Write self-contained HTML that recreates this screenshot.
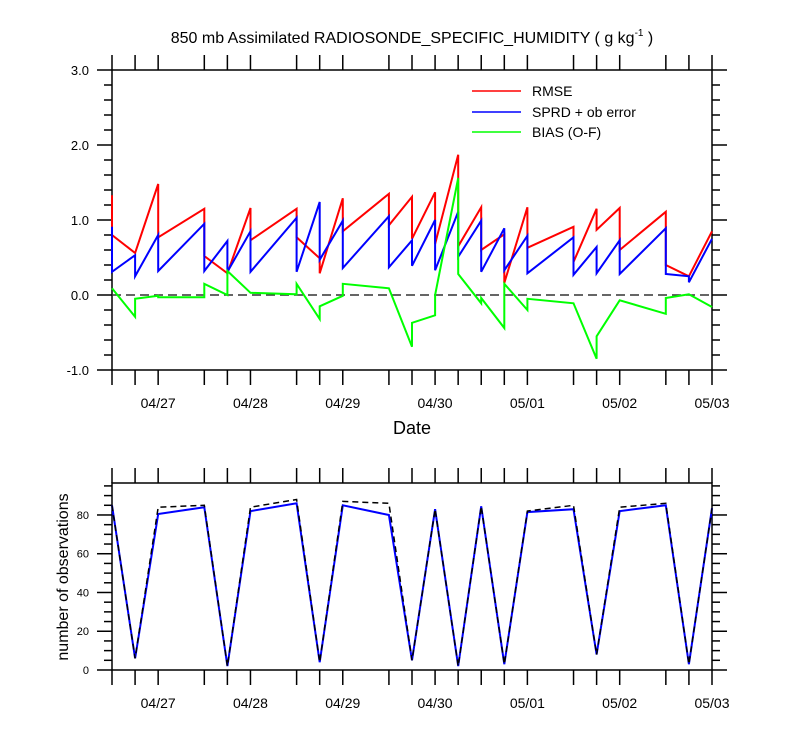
<!DOCTYPE html>
<html><head><meta charset="utf-8"><style>
html,body{margin:0;padding:0;background:#fff}
svg{display:block;font-family:"Liberation Sans",sans-serif}
</style></head><body>
<svg id="c" width="800" height="750" viewBox="0 0 800 750">
<text x="412" y="43" text-anchor="middle" font-size="16">850 mb Assimilated RADIOSONDE_SPECIFIC_HUMIDITY ( g kg<tspan font-size="10" dy="-7">-1</tspan><tspan dy="7"> )</tspan></text>
<text x="412" y="434" text-anchor="middle" font-size="18">Date</text>
<text transform="translate(68,577) rotate(-90)" text-anchor="middle" font-size="16">number of observations</text>
<g>
<line x1="472" y1="91" x2="521" y2="91" stroke="#f00" stroke-width="1.5"/><text x="532" y="96" font-size="14">RMSE</text>
<line x1="472" y1="112" x2="521" y2="112" stroke="#00f" stroke-width="1.5"/><text x="532" y="117" font-size="14">SPRD + ob error</text>
<line x1="472" y1="132" x2="521" y2="132" stroke="#0f0" stroke-width="1.5"/><text x="532" y="137" font-size="14">BIAS (O-F)</text>
</g>
</svg>
<script>
const dayLabels=["04/27","04/28","04/29","04/30","05/01","05/02","05/03"];
const dayHours=[12,36,60,84,108,132,156];
const tickHours=[0,6,12,24,30,36,48,54,60,72,78,84,90,96,102,108,120,126,132,144,150,156];
const rmseT=[0,0,6,12,12,24,24,30,36,36,48,48,54,54,60,60,72,72,78,78,84,84,90,90,96,96,102,102,108,108,120,120,126,126,132,132,144,144,150,156];
const rmseV=[1.33,0.80,0.56,1.48,0.77,1.15,0.52,0.29,1.16,0.73,1.15,0.77,0.49,0.29,1.29,0.85,1.35,0.93,1.31,0.75,1.37,0.68,1.87,0.65,1.17,0.60,0.81,0.16,1.17,0.63,0.91,0.44,1.15,0.87,1.16,0.60,1.11,0.40,0.25,0.85];
const sprdT=[0,0,6,6,12,12,24,24,30,30,36,36,48,48,54,54,60,60,72,72,78,78,84,84,90,90,96,96,102,102,108,108,120,120,126,126,132,132,144,144,150,150,156];
const sprdV=[0.91,0.31,0.53,0.25,0.80,0.32,0.95,0.32,0.72,0.31,0.85,0.31,1.03,0.31,1.24,0.47,0.99,0.36,1.05,0.37,0.73,0.39,1.00,0.33,1.11,0.51,0.99,0.31,0.89,0.33,0.79,0.29,0.77,0.27,0.64,0.29,0.73,0.28,0.89,0.28,0.25,0.17,0.75];
const biasT=[0,6,6,12,12,24,24,30,30,36,48,48,54,54,60,60,72,78,78,84,84,90,90,96,96,102,102,108,108,120,126,126,132,144,144,150,156];
const biasV=[0.09,-0.29,-0.05,-0.01,-0.03,-0.03,0.15,0.00,0.32,0.03,0.01,0.15,-0.32,-0.15,-0.01,0.15,0.09,-0.69,-0.37,-0.27,0.00,1.56,0.28,-0.11,-0.04,-0.44,0.15,-0.20,-0.05,-0.11,-0.85,-0.55,-0.07,-0.25,-0.04,0.01,-0.16];
const obsT=[0,6,12,24,30,36,48,54,60,72,78,84,90,96,102,108,120,126,132,144,150,156];
const obsUsed=[85,6,80.5,84,2,82,86,4,85,80,5,83,2,84.5,3,81.5,83,8,82,85,3,83.5];
const obsPoss=[85,6,84,85,2,84,88,4,87,86,5,83,2,84.5,3,82,85,8,84,86,3,83.5];
const yTicksTop=[-1,0,1,2,3];
const yTicksBot=[0,20,40,60,80];

const NS="http://www.w3.org/2000/svg",svg=document.getElementById('c');
const L=112,R=712,T1=70,B1=370,T2=483,B2=670;
const xs=h=>L+h*(R-L)/156;
const y1=v=>T1+(3-v)*(B1-T1)/4;
const y2=v=>B2-v*(B2-T2)/96.5;
function el(t,a,p){const e=document.createElementNS(NS,t);for(const k in a)e.setAttribute(k,a[k]);(p||svg).appendChild(e);return e;}
function ln(x1,y1_,x2,y2_,w){return el('line',{x1:x1,y1:y1_,x2:x2,y2:y2_,stroke:'#000','stroke-width':w||1.5});}
function txt(x,y,s,anchor,size){const t=el('text',{x:x,y:y,'text-anchor':anchor,'font-size':size});t.textContent=s;return t;}

function frame(top,bot,name){
  const g=el('g',{});
  
  
  el('rect',{x:L,y:top,width:R-L,height:bot-top,fill:'none',stroke:'#000','stroke-width':1.5},g);
  tickHours.forEach(h=>{const x=xs(h);
    el('line',{x1:x,y1:top,x2:x,y2:top-15,stroke:'#000','stroke-width':1.5},g);
    el('line',{x1:x,y1:bot,x2:x,y2:bot+15,stroke:'#000','stroke-width':1.5},g);});
  dayHours.forEach((h,i)=>{const t=txt(xs(h),bot+38,dayLabels[i],'middle',14);});
}
frame(T1,B1,'top-panel');
frame(T2,B2,'bottom-panel');

// top y ticks
for(let v=-1;v<=3.001;v+=0.2){const y=y1(v);const maj=Math.abs(v-Math.round(v))<1e-6;const len=maj?15:8;
  ln(L,y,L-len,y);ln(R,y,R+len,y);}
yTicksTop.forEach(v=>{const t=txt(L-23,y1(v)+5,v.toFixed(1),'end',13);});
// bottom y ticks
for(let v=0;v<=95;v+=5){const y=y2(v);const maj=v%20===0;const len=maj?15:8;ln(L,y,L-len,y);ln(R,y,R+len,y);}
yTicksBot.forEach(v=>{const t=txt(L-23,y2(v)+4,String(v),'end',11);});

// zero line
const z=ln(L,y1(0),R,y1(0),1.5);z.setAttribute('stroke','#333');z.setAttribute('stroke-dasharray','9,5');



function series(T,V,fx,fy,color,name,dash){
  const d=T.map((t,i)=>(i?'L':'M')+fx(t).toFixed(1)+','+fy(V[i]).toFixed(1)).join('');
  const p=el('path',{d:d,fill:'none',stroke:color,'stroke-width':2,'stroke-linejoin':'miter'});
  if(dash){p.setAttribute('stroke-dasharray',dash);p.setAttribute('stroke-width',1.5);}
  
  
}
series(rmseT,rmseV,xs,y1,'#f00','rmse-line');
series(sprdT,sprdV,xs,y1,'#00f','spread-line');
series(biasT,biasV,xs,y1,'#0f0','bias-line');
series(obsT,obsUsed,xs,y2,'#00f','obs-used-line');
series(obsT,obsPoss,xs,y2,'#000','obs-possible-line','6,4');
</script>
</body></html>
